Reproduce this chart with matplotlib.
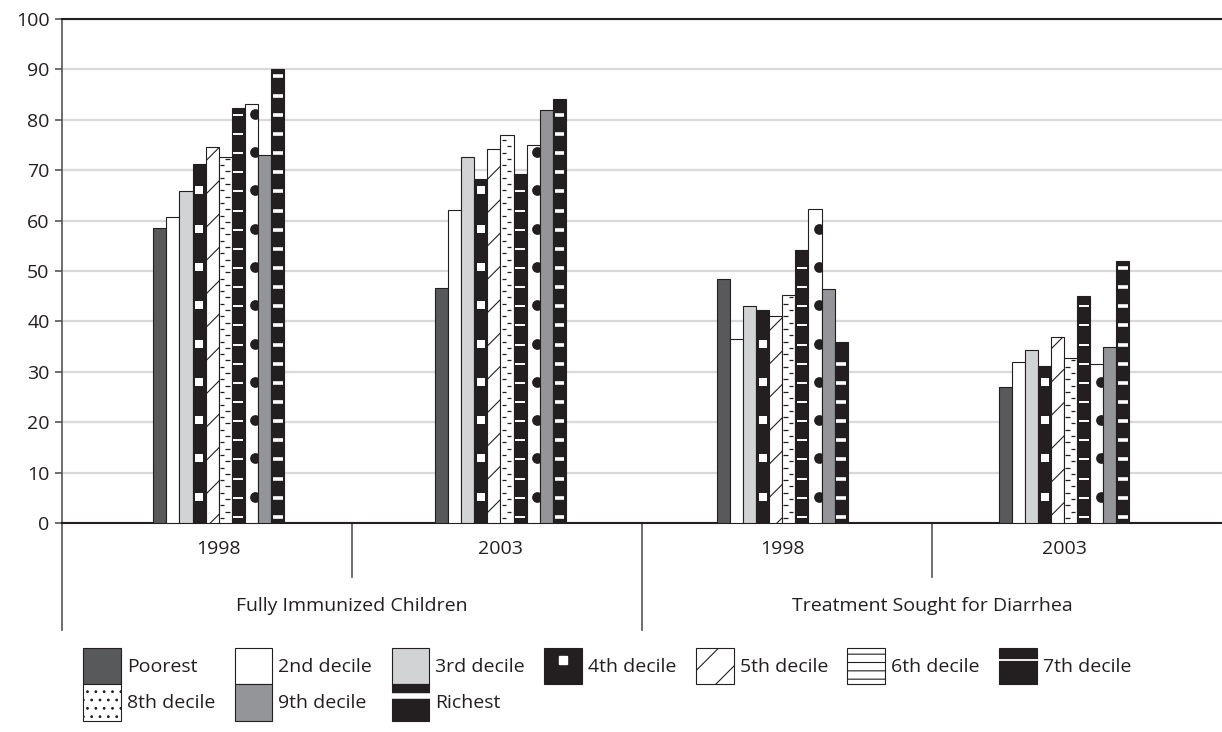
import numpy as np
import matplotlib.pyplot as plt
from matplotlib.patches import Patch
from matplotlib.lines import Line2D
from matplotlib.legend_handler import HandlerTuple

plt.rcParams['font.family'] = ['Open Sans', 'DejaVu Sans']
plt.rcParams['hatch.linewidth'] = 0.8

# chart data
categories = ["Fully Immunized Children", "Treatment Sought for Diarrhea"]
years = ["1998", "2003", "1998", "2003"]
deciles = ["Poorest", "2nd decile", "3rd decile", "4th decile", "5th decile",
           "6th decile", "7th decile", "8th decile", "9th decile", "Richest"]

immun_1998 = [58.5, 60.8, 65.8, 71.2, 74.6, 72.7, 82.4, 83.2, 73.1, 90.0]
immun_2003 = [46.6, 62.2, 72.6, 68.2, 74.2, 77.0, 69.3, 75.0, 81.9, 84.2]
diarr_1998 = [48.4, 36.5, 43.0, 42.3, 41.1, 45.3, 54.2, 62.3, 46.5, 36.0]
diarr_2003 = [27.0, 31.9, 34.3, 31.2, 37.0, 32.8, 45.1, 31.6, 35.0, 51.9]

DARK = "#231f20"
GRID = "#d9d9d9"
FS = 14


def main():
    values = np.array([immun_1998, immun_2003, diarr_1998, diarr_2003]).T
    n = len(deciles)
    # bar clusters sit slightly inside the category cells, as in the source
    x = np.arange(len(years)) * 0.972 + 0.04
    w = 0.045

    fig = plt.figure(figsize=(12.22, 7.32), dpi=100)
    ax = fig.add_axes([62 / 1222, 1 - 523 / 732, 1 - 62 / 1222,
                       (523 - 19) / 732])

    face = {0: "#58595b", 1: "white", 2: "#d1d3d4", 3: DARK, 4: "white",
            5: "white", 6: DARK, 7: "white", 8: "#939598", 9: DARK}

    for i in range(n):
        xs = x + (i - (n - 1) / 2) * w
        hs = values[i]
        hatch = "/" if i == 4 else None
        bars = ax.bar(xs, hs, w, color=face[i], edgecolor=DARK, lw=0.8,
                      hatch=hatch, zorder=3)

        # pattern fills drawn on top of the bars
        if i == 3:
            for xc, h in zip(xs, hs):
                ys = np.arange(5.2, h - 1.0, 7.6)
                ax.scatter(np.full(len(ys), xc), ys, marker="s", s=32,
                           c="white", linewidths=0, zorder=4)
        elif i == 5:
            for xc, h in zip(xs, hs):
                ya = np.arange(1.0, h - 0.4, 2.5)
                yb = ya + 1.25
                yb = yb[yb < h - 0.4]
                ax.hlines(ya, xc - 0.42 * w, xc - 0.08 * w, colors=DARK,
                          lw=0.9, zorder=4)
                ax.hlines(yb, xc + 0.0 * w, xc + 0.34 * w, colors=DARK,
                          lw=0.9, zorder=4)
        elif i in (6, 9):
            lw = 1.4 if i == 6 else 2.6
            for xc, h in zip(xs, hs):
                ys = np.arange(1.2, h - 0.8, 3.8)
                ax.hlines(ys, xc - 0.36 * w, xc + 0.40 * w, colors="white",
                          lw=lw, zorder=4)
        elif i == 7:
            for xc, h, rect in zip(xs, hs, bars.patches):
                ys = np.arange(5.2, h + 1.0, 7.6)
                sc = ax.scatter(np.full(len(ys), xc + 0.32 * w), ys,
                                marker="o", s=60, c=DARK, linewidths=0,
                                zorder=4)
                sc.set_clip_path(rect)

    ax.set_xlim(-0.5, len(years) - 0.5)
    ax.set_ylim(0, 100)
    ax.set_yticks(np.arange(0, 101, 10))
    ax.yaxis.grid(True, color=GRID, lw=1.6, zorder=0)
    ax.set_axisbelow(True)

    ax.spines["right"].set_visible(False)
    ax.spines["top"].set_color(DARK)
    ax.spines["top"].set_linewidth(1.5)
    ax.spines["bottom"].set_color(DARK)
    ax.spines["bottom"].set_linewidth(1.5)
    ax.spines["left"].set_color("#555555")
    ax.spines["left"].set_linewidth(1.2)
    ax.tick_params(axis="y", length=5, width=1.2, color="#555555",
                   labelsize=FS, labelcolor=DARK, pad=4)

    ax.set_xticks(x)
    ax.set_xticklabels(years, fontsize=FS, color=DARK)
    ax.tick_params(axis="x", length=0, pad=12)

    # two-level category axis
    tr = ax.get_xaxis_transform()
    for xd in [0.5, 2.5]:
        ax.plot([xd, xd], [0, -0.107], transform=tr, color="#555555",
                lw=1.2, clip_on=False)
    for xd in [-0.5, 1.5]:
        ax.plot([xd, xd], [0, -0.2123], transform=tr, color="#555555",
                lw=1.2, clip_on=False)
    for k, cat in enumerate(categories):
        ax.text(0.5 + 2 * k, -0.165, cat, transform=tr, ha="center",
                va="center", fontsize=FS, color=DARK)

    # legend
    def box(fc, hatch=None):
        return Patch(facecolor=fc, edgecolor=DARK, lw=0.8, hatch=hatch)

    handles = {
        0: box("#58595b"),
        1: box("white"),
        2: box("#d1d3d4"),
        3: (box(DARK), Line2D([], [], ls="none", marker="s", ms=6,
                              mfc="white", mec="white")),
        4: box("white", "/"),
        5: box("white", "--"),
        6: (box(DARK), Line2D([], [], color="white", lw=1.3)),
        7: box("white", ".."),
        8: box("#939598"),
        9: (box(DARK), Line2D([], [], color="white", lw=4)),
    }
    order = [0, 7, 1, 8, 2, 9, 3, 4, 5, 6]
    fig.legend([handles[k] for k in order], [deciles[k] for k in order],
               loc="upper left", bbox_to_anchor=(83 / 1222, 1 - 648 / 732),
               ncol=7, frameon=False, fontsize=FS, handlelength=1.95,
               handleheight=2.5, handletextpad=0.3, columnspacing=1.0,
               labelspacing=0.0, borderpad=0, borderaxespad=0,
               handler_map={tuple: HandlerTuple(ndivide=1, pad=0)})
    for t in fig.legends[0].get_texts():
        t.set_color(DARK)

    fig.savefig("out.png", dpi=100)


if __name__ == "__main__":
    main()
